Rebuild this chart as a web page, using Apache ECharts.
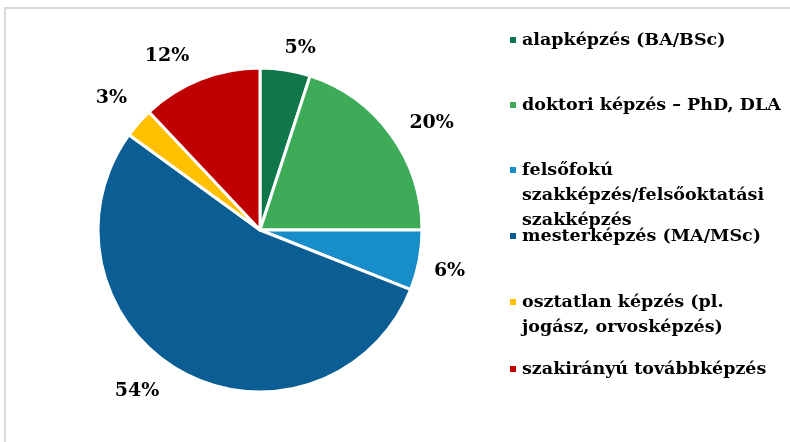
<!DOCTYPE html>
<html>
<head>
<meta charset="utf-8">
<script src="https://cdn.jsdelivr.net/npm/echarts@6/dist/echarts.min.js"></script>
<style>
  html, body { margin: 0; padding: 0; background: #fff; }
  #chart { width: 790px; height: 442px; }
</style>
</head>
<body>
<div id="chart"></div>
<script>
const categories = [
  'alapképzés (BA/BSc)',
  'doktori képzés – PhD, DLA',
  'felsőfokú szakképzés/felsőoktatási szakképzés',
  'mesterképzés (MA/MSc)',
  'osztatlan képzés (pl. jogász, orvosképzés)',
  'szakirányú továbbképzés'
];
const values = [5, 20, 6, 54, 3, 12];
const legendLines = [
  ['alapképzés (BA/BSc)'],
  ['doktori képzés – PhD, DLA'],
  ['felsőfokú', 'szakképzés/felsőoktatási', 'szakképzés'],
  ['mesterképzés (MA/MSc)'],
  ['osztatlan képzés (pl.', 'jogász, orvosképzés)'],
  ['szakirányú továbbképzés']
];
const colors = ['#0f774a', '#3dab58', '#178dca', '#0b5e93', '#ffc000', '#c00000'];

const font = 'DejaVu Serif';
const lineH = 25;
const legendMarkerY = [40, 105, 170, 236, 302, 369];
// small nudges so the percent labels land where Excel's best-fit put them
const labelNudge = [[-12, -8], [-2, -3], [-8, 8], [-7, 7], [8, -16], [3, -10]];

const chart = echarts.init(document.getElementById('chart'), null, { renderer: 'canvas' });

// one legend per item so the marker sits on the first text line like the original
const legends = categories.map((name, i) => {
  const lines = legendLines[i];
  const pad = lines.length - 1;
  const text = '\n'.repeat(pad) + lines.join('\n');
  const total = lines.length + pad;
  return {
    data: [name],
    orient: 'vertical',
    left: 508,
    top: legendMarkerY[i] - (total * lineH) / 2,
    padding: 0,
    itemWidth: 8,
    itemHeight: 8,
    itemGap: 0,
    icon: 'rect',
    selectedMode: false,
    formatter: () => text,
    textStyle: {
      fontFamily: font,
      fontWeight: 'bold',
      fontSize: 17.5,
      lineHeight: lineH,
      color: '#000'
    }
  };
});

const option = {
  animation: false,
  color: colors,
  graphic: [
    {
      type: 'polyline',
      shape: { points: [[5, 442], [5, 8], [790, 8]] },
      style: { stroke: '#d9d9d9', lineWidth: 2, fill: null }
    }
  ],
  legend: legends,
  series: [
    {
      type: 'pie',
      center: [260, 230],
      radius: 162,
      startAngle: 90,
      clockwise: true,
      avoidLabelOverlap: false,
      itemStyle: { borderColor: '#fff', borderWidth: 3 },
      label: {
        show: true,
        position: 'outside',
        formatter: p => p.value + '%',
        fontFamily: font,
        fontWeight: 'bold',
        fontSize: 19,
        color: '#000'
      },
      labelLine: { show: false, length: 14, length2: 4 },
      data: categories.map((name, i) => ({
        name: name,
        value: values[i],
        label: { offset: labelNudge[i] }
      }))
    }
  ]
};

chart.setOption(option);
</script>
</body>
</html>
